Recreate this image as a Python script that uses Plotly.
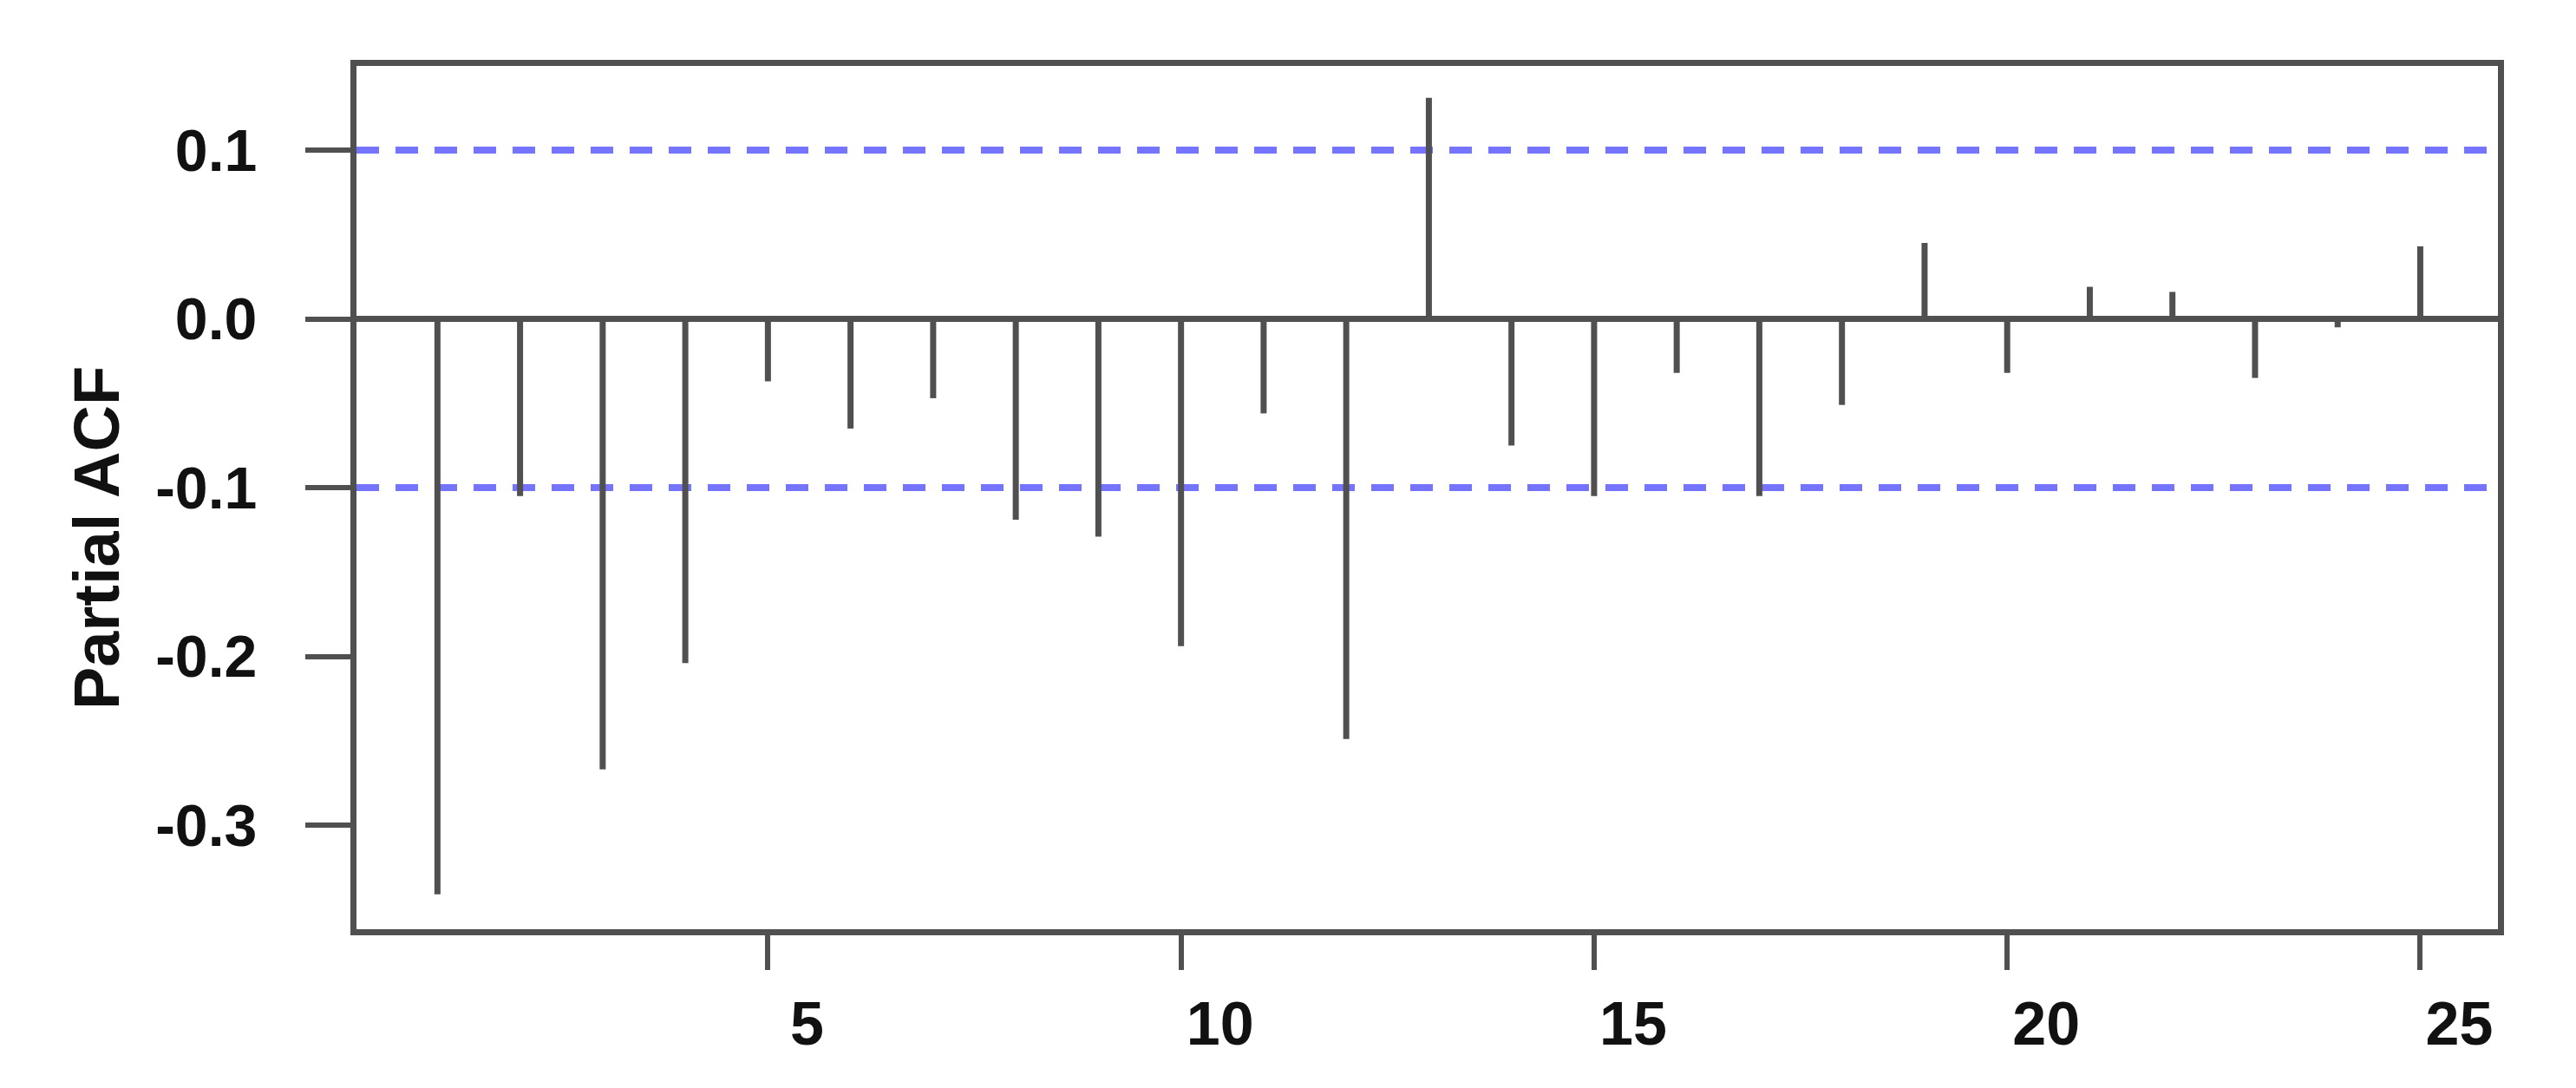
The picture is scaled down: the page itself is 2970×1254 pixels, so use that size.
import plotly.graph_objects as go

lags = list(range(1, 26))
pacf_values = [-0.341, -0.105, -0.267, -0.204, -0.037, -0.065, -0.047, -0.119,
               -0.129, -0.194, -0.056, -0.249, 0.131, -0.075, -0.105, -0.032,
               -0.105, -0.051, 0.045, -0.032, 0.019, 0.016, -0.035, -0.005, 0.043]
ci_bound = 0.1
x_tick_vals = [5, 10, 15, 20, 25]
x_tick_text = ["5", "10", "15", "20", "25"]
y_tick_vals = [0.1, 0.0, -0.1, -0.2, -0.3]
y_tick_text = ["0.1", "0.0", "-0.1", "-0.2", "-0.3"]
y_title = "Partial ACF"

AX = "#505050"
TXT = "#111111"
FONT = "Liberation Sans, Arial, sans-serif"

xs, ys = [], []
for lag, v in zip(lags, pacf_values):
    xs += [lag, lag, None]
    ys += [0, v, None]

fig = go.Figure()
fig.add_trace(go.Scatter(x=xs, y=ys, mode="lines",
                         line=dict(color=AX, width=7), hoverinfo="skip",
                         showlegend=False))

for yv in (ci_bound, -ci_bound):
    fig.add_shape(type="line", xref="paper", yref="y", x0=0, x1=1, y0=yv, y1=yv,
                  line=dict(color="#7474ff", width=8, dash="26px,19px"), layer="below")

fig.update_layout(
    width=2970, height=1254,
    margin=dict(l=403, r=98, t=68, b=191),
    paper_bgcolor="white", plot_bgcolor="white",
    font=dict(family=FONT, size=68, color=TXT),
    showlegend=False,
)
fig.update_xaxes(
    range=[0.02, 25.94], showgrid=False, zeroline=False,
    showline=True, linecolor=AX, linewidth=7, mirror=True,
    ticks="outside", ticklen=40, tickwidth=6, tickcolor=AX,
    tickvals=x_tick_vals, ticktext=x_tick_text,
    tickfont=dict(family=FONT, size=70, color=TXT, weight="bold"),
    ticklabelshift=45, ticklabelstandoff=2,
)
fig.update_yaxes(
    range=[-0.3617, 0.1499], showgrid=False,
    zeroline=True, zerolinecolor=AX, zerolinewidth=7,
    showline=True, linecolor=AX, linewidth=7, mirror=True,
    ticks="outside", ticklen=52, tickwidth=6, tickcolor=AX,
    tickvals=y_tick_vals, ticktext=y_tick_text,
    tickfont=dict(family=FONT, size=68, color=TXT, weight="bold"),
    ticklabelstandoff=42,
)
fig.add_annotation(text=y_title, xref="paper", yref="paper",
                   x=(103 - 403) / (2970 - 403 - 98), y=(1254 - 191 - 612) / (1254 - 191 - 68),
                   xanchor="center", yanchor="middle", showarrow=False, textangle=-90,
                   font=dict(family=FONT, size=74, color=TXT, weight="bold"))

fig.write_html("out.html")
